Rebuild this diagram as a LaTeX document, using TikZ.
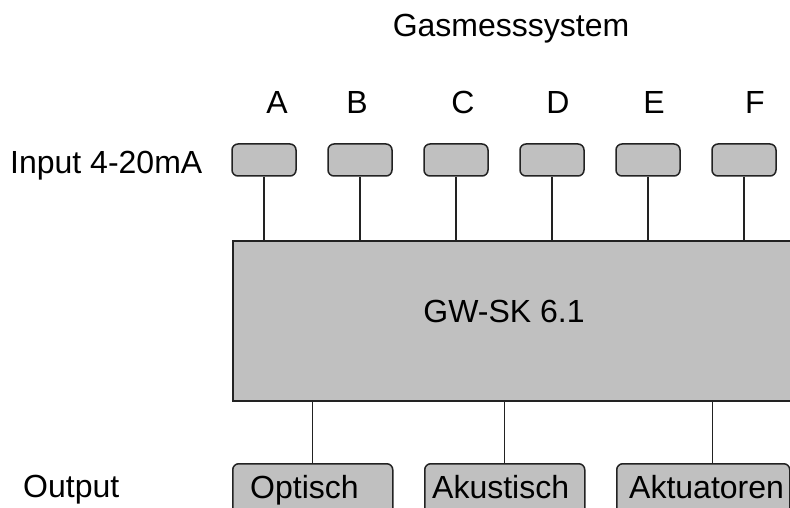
\documentclass[tikz,border=0pt]{standalone}
\usepackage{fontspec}
\setmainfont{Liberation Sans}
\definecolor{boxfill}{HTML}{C0C0C0}
\definecolor{edge}{HTML}{222222}
\begin{document}
\begin{tikzpicture}[x=1pt,y=-1pt,
  txt/.style={font=\fontsize{32}{38}\selectfont, inner sep=0pt, anchor=base},
  inbox/.style={draw=edge, line width=1.5pt, fill=boxfill, rounded corners=6pt,
    minimum width=64pt, minimum height=32pt, inner sep=0pt},
  outbox/.style={draw=edge, line width=1.5pt, fill=boxfill, rounded corners=6pt,
    minimum height=70pt, inner sep=0pt},
  wire/.style={draw=edge, line width=1.1pt}]
\useasboundingbox (0,0) rectangle (790,508);
\clip (0,0) rectangle (790,508);

% title and channel letters
\node[txt] (title) at (511,37) {Gasmesssystem};
\foreach \l/\x in {A/277,B/357,C/463,D/558,E/654,F/755}
  \node[txt] (lab\l) at (\x,114) {\l};

% row labels
\node[txt, anchor=base west] (inlab) at (10,173) {Input 4-20mA};
\node[txt, anchor=base west] (outlab) at (23,497) {Output};

% central controller block (runs past the right edge)
\node[draw=edge, line width=1.5pt, fill=boxfill, minimum width=580pt,
  minimum height=160pt, inner sep=0pt, anchor=north west] (main) at (232,240) {};
\node[txt] (mainlab) at (504,322) {GW-SK 6.1};

% 4-20mA input channels
\foreach \i/\x in {1/264,2/360,3/456,4/552,5/648,6/744}{
  \node[inbox] (in\i) at (\x,160) {};
  \draw[wire] (in\i.south) -- (in\i.south |- main.north);
}

% output groups
\node[outbox, minimum width=160pt, anchor=north west] (out1) at (232,463) {};
\node[outbox, minimum width=160pt, anchor=north west] (out2) at (424,463) {};
\node[outbox, minimum width=173pt, anchor=north west] (out3) at (616,463) {};
\node[txt, anchor=base west] (o1lab) at (250,498) {Optisch};
\node[txt, anchor=base west] (o2lab) at (432,498) {Akustisch};
\node[txt, anchor=base west] (o3lab) at (629,498) {Aktuatoren};

\draw[wire] (out1.north) -- (out1.north |- main.south);
\draw[wire] (out2.north) -- (out2.north |- main.south);
\draw[wire] ([xshift=9.5pt]out3.north) -- ([xshift=9.5pt]out3.north |- main.south);
\end{tikzpicture}
\end{document}
